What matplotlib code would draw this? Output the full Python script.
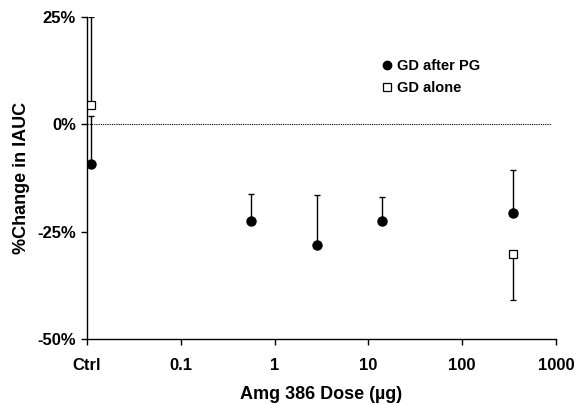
import matplotlib
matplotlib.use("Agg")
import matplotlib.pyplot as plt
from matplotlib.lines import Line2D

plt.rcParams['font.family'] = ['Liberation Sans', 'DejaVu Sans']
plt.rcParams['font.weight'] = 'bold'

# Data
doses_after = [0.011, 0.56, 2.8, 14, 350]
pct_after = [-9.2, -22.6, -28.1, -22.6, -20.6]
err_after_upper = [11.1, 6.3, 11.7, 5.6, 9.9]

doses_alone = [0.011, 350]
pct_alone = [4.5, -30.2]
err_alone_lower = [0, 10.6]
err_alone_upper = [20.5, 0]

xticks = [0.01, 0.1, 1, 10, 100, 1000]
xticklabels = ['Ctrl', '0.1', '1', '10', '100', '1000']
yticks = [-50, -25, 0, 25]
yticklabels = ['-50%', '-25%', '0%', '25%']

fig = plt.figure(figsize=(5.75, 4.04), dpi=100)
ax = fig.add_axes([87/575, 65/404, (556-87)/575, (339-17)/404])

ax.axhline(0, xmin=0, xmax=0.99, color='black', lw=0.8, ls=(0, (1, 1)))

ax.errorbar(doses_alone, pct_alone, yerr=[err_alone_lower, err_alone_upper],
            fmt='s', color='black', mfc='white', mec='black', ms=6, mew=0.9,
            ecolor='black', elinewidth=1, capsize=2.5, capthick=1, zorder=3)
ax.errorbar(doses_after, pct_after, yerr=[[0]*len(err_after_upper), err_after_upper],
            fmt='o', color='black', ms=6.5, ecolor='black', elinewidth=1,
            capsize=2.5, capthick=1, zorder=4)

ax.set_xscale('log')
ax.set_xlim(0.01, 1000)
ax.set_ylim(-50, 25)
ax.set_xticks(xticks)
ax.set_xticklabels(xticklabels)
ax.xaxis.set_minor_locator(matplotlib.ticker.NullLocator())
ax.set_yticks(yticks)
ax.set_yticklabels(yticklabels)

for s in ['top', 'right']:
    ax.spines[s].set_visible(False)
for s in ['left', 'bottom']:
    ax.spines[s].set_linewidth(1.0)
ax.tick_params(axis='both', direction='out', length=4, width=1, labelsize=12)
ax.tick_params(axis='x', pad=10)
ax.tick_params(axis='y', pad=4)

ax.set_xlabel('Amg 386 Dose (µg)', fontsize=13, fontweight='bold', labelpad=9)
ax.set_ylabel('%Change in IAUC', fontsize=13, fontweight='bold', labelpad=5)

handles = [Line2D([], [], marker='o', ls='none', color='black', ms=6),
           Line2D([], [], marker='s', ls='none', mfc='white', mec='black', ms=6, mew=0.9)]
fig.legend(handles, ['GD after PG', 'GD alone'], loc='upper left',
           bbox_to_anchor=(372/575, 1 - 53/404), frameon=False,
           prop={'size': 10.5, 'weight': 'bold'}, handletextpad=0.1,
           handlelength=1.2, labelspacing=0.55, borderaxespad=0)

fig.savefig('out.png', dpi=100)
